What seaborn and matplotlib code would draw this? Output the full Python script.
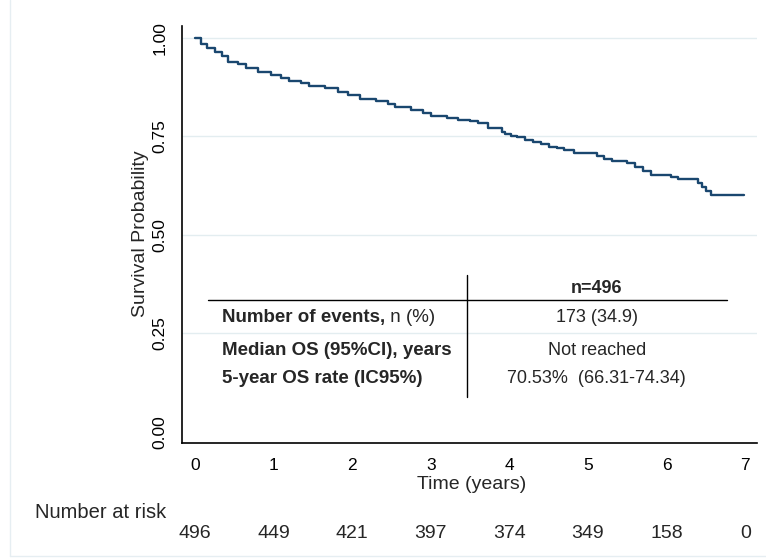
import matplotlib
matplotlib.use("Agg")
import matplotlib.pyplot as plt
import matplotlib.transforms as mtransforms
from matplotlib.lines import Line2D
import seaborn as sns
import pandas as pd

# -------------------------------
# 1. Data (Kaplan-Meier curve)
# -------------------------------
time_years = [0, 0.08, 0.15, 0.25, 0.35, 0.42, 0.55, 0.65, 0.80, 0.97,
              1.10, 1.20, 1.35, 1.45, 1.65, 1.82, 1.95, 2.10, 2.30, 2.45,
              2.55, 2.75, 2.90, 3.00, 3.20, 3.35, 3.50, 3.60, 3.73, 3.90,
              3.95, 4.02, 4.10, 4.20, 4.30, 4.40, 4.50, 4.60, 4.70, 4.82,
              5.12, 5.20, 5.30, 5.50, 5.60, 5.70, 5.80, 6.05, 6.15, 6.40,
              6.45, 6.50, 6.57, 6.98]
survival = [1.000, 0.985, 0.975, 0.965, 0.955, 0.940, 0.935, 0.925, 0.913, 0.906,
            0.898, 0.892, 0.885, 0.879, 0.872, 0.862, 0.855, 0.845, 0.839, 0.832,
            0.825, 0.817, 0.810, 0.803, 0.798, 0.793, 0.789, 0.783, 0.772, 0.762,
            0.757, 0.752, 0.748, 0.742, 0.736, 0.730, 0.724, 0.720, 0.715, 0.708,
            0.700, 0.692, 0.688, 0.682, 0.673, 0.663, 0.652, 0.648, 0.642, 0.633,
            0.622, 0.612, 0.600, 0.600]

x_ticks = [0, 1, 2, 3, 4, 5, 6, 7]
y_ticks = [0.00, 0.25, 0.50, 0.75, 1.00]
at_risk = [496, 449, 421, 397, 374, 349, 158, 0]

table_header = "n=496"
row_labels = ["Number of events,", "Median OS (95%CI), years", "5-year OS rate (IC95%)"]
row_label_suffix = [" n (%)", "", ""]
row_values = ["173 (34.9)", "Not reached", "70.53%  (66.31-74.34)"]

df = pd.DataFrame({"time": time_years, "surv": survival})

# -------------------------------
# 2. Style
# -------------------------------
sns.set_style("white")
plt.rcParams["font.family"] = ["Liberation Sans", "DejaVu Sans"]

line_color = "#1a476f"
grid_color = "#e3edf0"

fig = plt.figure(figsize=(7.66, 5.59), dpi=100)
ax = fig.add_axes([0.2372, 0.2080, 0.9883 - 0.2372, 0.9531 - 0.2080])

# light grid lines like Stata
for yv in y_ticks[1:]:
    ax.axhline(yv, color=grid_color, lw=1.0, zorder=0)

sns.lineplot(data=df, x="time", y="surv", drawstyle="steps-post",
             estimator=None, color=line_color, linewidth=1.7, ax=ax)

ax.set_xlim(-0.169, 7.15)
ax.set_ylim(-0.028, 1.03)
ax.set_xticks(x_ticks)
ax.set_yticks(y_ticks)
ax.set_xticklabels([str(v) for v in x_ticks], fontsize=12.5)
ax.set_yticklabels([f"{v:.2f}" for v in y_ticks], fontsize=12.5,
                   rotation=90, va="center")

for side in ["top", "right"]:
    ax.spines[side].set_visible(False)
for side in ["left", "bottom"]:
    ax.spines[side].set_color("black")
    ax.spines[side].set_linewidth(1.2)

ax.tick_params(axis="both", direction="out", length=5, width=1.1,
               color="black", labelcolor="black")
ax.tick_params(axis="x", pad=6)
ax.tick_params(axis="y", pad=5)

ax.set_xlabel("Time (years)", fontsize=14)
ax.xaxis.set_label_coords(0.5037, -0.080)
ax.set_ylabel("Survival Probability", fontsize=14)
ax.yaxis.set_label_coords(-0.056, 0.503)

# -------------------------------
# 3. Summary table inside the plot
# -------------------------------
ax.plot([3.457, 3.457], [0.088, 0.398], color="black", lw=1.0)
ax.plot([0.165, 6.77], [0.3345, 0.3345], color="black", lw=1.0)

ax.text(5.11, 0.365, table_header, fontsize=13, fontweight="bold",
        ha="center", va="center")

row_y = [0.289, 0.2075, 0.134]
for lab, suf, val, yy in zip(row_labels, row_label_suffix, row_values, row_y):
    t1 = ax.text(0.343, yy, lab, fontsize=13.5, fontweight="bold",
                 ha="left", va="center")
    if suf:
        ax.annotate(suf, xy=(1, 0), xycoords=t1, fontsize=13.5,
                    ha="left", va="bottom")
    ax.text(5.11, yy, val, fontsize=13, ha="center", va="center")

# -------------------------------
# 4. Number at risk row below the axis
# -------------------------------
trans = mtransforms.blended_transform_factory(ax.transData, fig.transFigure)
fig.text(0.0457, 0.084, "Number at risk", fontsize=14.5, ha="left", va="center")
for xv, n in zip(x_ticks, at_risk):
    ax.text(xv, 0.045, str(n), fontsize=14, ha="center", va="center",
            transform=trans, clip_on=False)

# faint outer frame (graph region border)
fig.add_artist(Line2D([10 / 766, 10 / 766], [3 / 559, 1.0],
                      transform=fig.transFigure, color="#e6eef2", lw=1.0))
fig.add_artist(Line2D([10 / 766, 1.0], [3 / 559, 3 / 559],
                      transform=fig.transFigure, color="#e6eef2", lw=1.0))

plt.savefig("out.png", dpi=100)
